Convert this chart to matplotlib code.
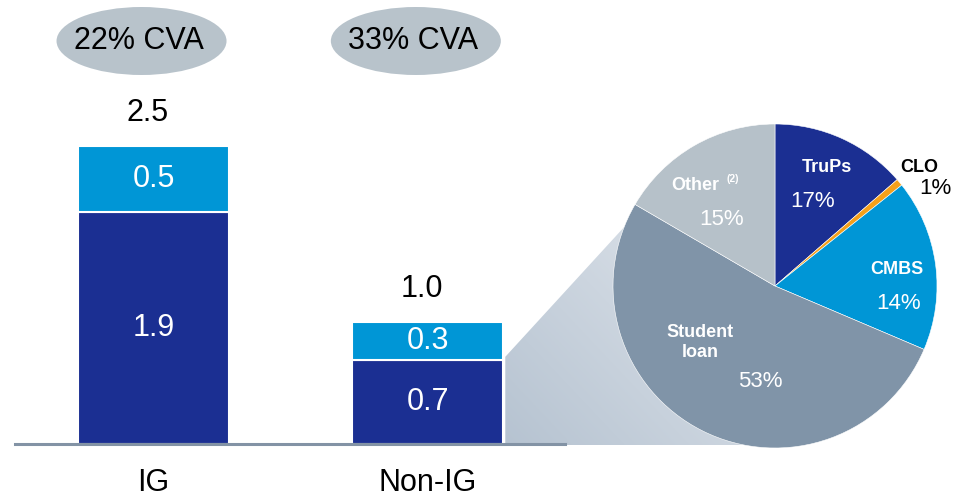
import numpy as np
import matplotlib
matplotlib.use('Agg')
import matplotlib.pyplot as plt
from matplotlib.patches import Ellipse, Polygon

plt.rcParams['font.family'] = ['Liberation Sans', 'DejaVu Sans']

# --- data ---
categories = ['IG', 'Non-IG']
base_vals = [1.9, 0.69]        # dark segment (as drawn)
top_vals = [0.54, 0.31]        # light segment (as drawn)
base_labels = ['1.9', '0.7']
top_labels = ['0.5', '0.3']
total_labels = ['2.5', '1.0']
cva_labels = ['22% CVA', '33% CVA']

pie_names = ['TruPs', 'CLO', 'CMBS', 'Student\nloan', 'Other']
pie_shares = [13.6, 0.7, 17.1, 52.0, 16.6]   # slice sizes as drawn
pie_pct = ['17%', '1%', '14%', '53%', '15%']

DARK = '#1b2f92'
LIGHT = '#0096d6'
PIE_COLORS = [DARK, '#f5a01a', LIGHT, '#8094a8', '#b6c1c9']

W, H = 964, 499
fig = plt.figure(figsize=(W / 100, H / 100), dpi=100)

# overlay axes in pixel coordinates (y up)
ov = fig.add_axes([0, 0, 1, 1], zorder=0)
ov.set_xlim(0, W)
ov.set_ylim(0, H)
ov.axis('off')

# bar axes
base_px = 444
px_per_unit = 122
bx = fig.add_axes([15 / W, (H - base_px) / H, 550 / W, base_px / H], zorder=1)
bx.patch.set_alpha(0)
x = np.arange(len(categories))
width = 0.55
bx.bar(x, base_vals, width, color=DARK, edgecolor='white', linewidth=1.5)
bx.bar(x, top_vals, width, bottom=base_vals, color=LIGHT, edgecolor='white', linewidth=1.5)
bx.set_xlim(-0.505, 1.5)
bx.set_ylim(0, base_px / px_per_unit)
for i in range(len(categories)):
    bx.text(x[i], base_vals[i] / 2, base_labels[i], ha='center', va='center',
            color='white', fontsize=22)
    bx.text(x[i], base_vals[i] + top_vals[i] / 2, top_labels[i], ha='center', va='center',
            color='white', fontsize=22)
    bx.annotate(total_labels[i], (x[i] - 0.02, base_vals[i] + top_vals[i]),
                xytext=(0, 24), textcoords='offset points', ha='center', va='center',
                fontsize=22, color='black', annotation_clip=False)
bx.set_xticks(x)
bx.set_xticklabels(categories, fontsize=22)
bx.tick_params(axis='x', length=0, pad=17)
bx.set_yticks([])
for s in ['top', 'left', 'right']:
    bx.spines[s].set_visible(False)
bx.spines['bottom'].set_color('#8393a5')
bx.spines['bottom'].set_linewidth(2.2)

# CVA ellipses above the bars
for i, lab in enumerate(cva_labels):
    cx = bx.transData.transform((x[i], 0))[0] - 12
    ov.add_patch(Ellipse((cx, H - 41), 170, 68, color='#b8c3cb', lw=0))
    ov.text(cx - 3, H - 41, lab, ha='center', va='center', fontsize=22, color='black')

# pie axes
pcx, pcy, pr = 775, 286, 162
px_ax = fig.add_axes([(pcx - pr) / W, (H - pcy - pr) / H, 2 * pr / W, 2 * pr / H], zorder=2)
px_ax.pie(pie_shares, colors=PIE_COLORS, startangle=90, counterclock=False,
          wedgeprops=dict(linewidth=0.4, edgecolor='white'))
px_ax.set_xlim(-1, 1)
px_ax.set_ylim(-1, 1)
px_ax.set_aspect('equal')
px_ax.axis('off')

# slice labels (name pos, pct pos) in pie data units
name_pos = [(0.32, 0.73), (0.89, 0.73), (0.755, 0.10), (-0.46, -0.35), (-0.49, 0.62)]
pct_pos = [(0.23, 0.52), (0.99, 0.60), (0.76, -0.105), (-0.09, -0.59), (-0.33, 0.41)]
for i in range(len(pie_names)):
    col = 'black' if pie_names[i] == 'CLO' else 'white'
    px_ax.text(*name_pos[i], pie_names[i], ha='center', va='center', fontsize=13,
               fontweight='bold', color=col, linespacing=1.25, clip_on=False)
    px_ax.text(*pct_pos[i], pie_pct[i], ha='center', va='center', fontsize=16,
               color=col, clip_on=False)
px_ax.text(-0.30, 0.66, '(2)', ha='left', va='center', fontsize=7.5,
           fontweight='bold', color='white')

# gradient connector from Non-IG bar to pie
ax_pt = bx.transData.transform((x[1] + width / 2, base_vals[1]))
def pie_px(u, v):
    return px_ax.transData.transform((u, v))
p1 = (ax_pt[0] + 2, ax_pt[1] + 3)
p2 = pie_px(-0.55, 0.78)
p3 = pie_px(0.0, 0.0)
p4 = pie_px(0.0, -0.98)
p5 = (p4[0], H - base_px - 1)
p6 = (ax_pt[0] + 2, H - base_px - 1)
poly = Polygon([p1, p2, p3, p4, p5, p6], closed=True, facecolor='none', edgecolor='none')
ov.add_patch(poly)
gx, gy = np.meshgrid(np.linspace(0, 1, 200), np.linspace(0, 1, 200))
grad = (gx + gy) / 2
cmap = matplotlib.colors.LinearSegmentedColormap.from_list('g', ['#b6c3d1', '#e8ecf1'])
im = ov.imshow(grad, cmap=cmap, origin='lower', aspect='auto',
               extent=[p1[0], p3[0], p6[1], p2[1]], zorder=0.5)
im.set_clip_path(poly)
ov.set_xlim(0, W)
ov.set_ylim(0, H)

fig.savefig('out.png', dpi=100)
